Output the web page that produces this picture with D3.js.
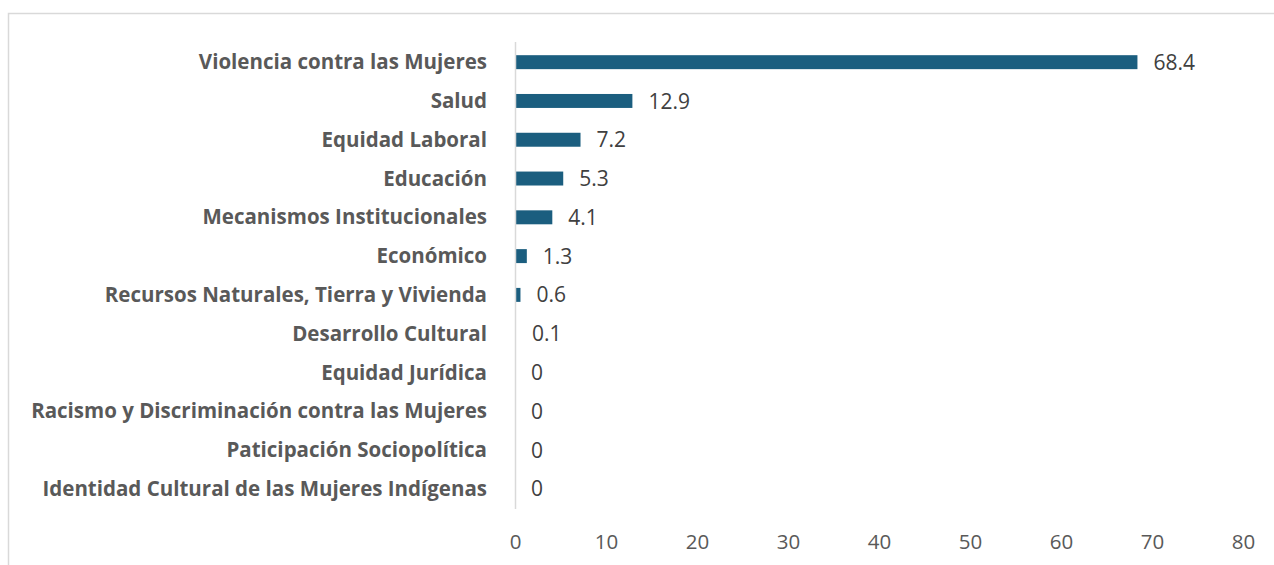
<!DOCTYPE html>
<html>
<head>
<meta charset="utf-8">
<script src="https://cdn.jsdelivr.net/npm/d3@7"></script>
<style>
  body { margin: 0; background: #fff; }
  text { font-family: "Open Sans", "DejaVu Sans", sans-serif; }
</style>
</head>
<body>
<div class="chart"></div>
<script>
var svgWidth = 1274;
var svgHeight = 565;

// data
var categories = [
  "Violencia contra las Mujeres",
  "Salud",
  "Equidad Laboral",
  "Educación",
  "Mecanismos Institucionales",
  "Económico",
  "Recursos Naturales, Tierra y Vivienda",
  "Desarrollo Cultural",
  "Equidad Jurídica",
  "Racismo y Discriminación contra las Mujeres",
  "Paticipación Sociopolítica",
  "Identidad Cultural de las Mujeres Indígenas"
];
var values = [68.4, 12.9, 7.2, 5.3, 4.1, 1.3, 0.6, 0.1, 0, 0, 0, 0];
var xTicks = [0, 10, 20, 30, 40, 50, 60, 70, 80];

var margin = { top: 42, right: 31, bottom: 56, left: 515 };
var width = svgWidth - margin.left - margin.right;
var height = svgHeight - margin.top - margin.bottom;

var svg = d3.select(".chart")
  .append("svg")
  .attr("width", svgWidth)
  .attr("height", svgHeight);

// outer frame
svg.append("rect")
  .attr("x", 8.5)
  .attr("y", 13.5)
  .attr("width", 1300)
  .attr("height", 600)
  .attr("fill", "none")
  .attr("stroke", "#d9d9d9")
  .attr("stroke-width", 1.5);

var chartGroup = svg.append("g")
  .attr("transform", `translate(${margin.left}, ${margin.top})`);

var x = d3.scaleLinear()
  .domain([0, 80])
  .range([0, width]);

var y = d3.scaleBand()
  .domain(categories)
  .range([0, height])
  .paddingInner(0.64)
  .paddingOuter(0.34);

// bars
chartGroup.selectAll("rect.bar")
  .data(values)
  .enter()
  .append("rect")
  .attr("class", "bar")
  .attr("x", 0)
  .attr("y", function(d, i) { return y(categories[i]); })
  .attr("width", function(d) { return x(d); })
  .attr("height", y.bandwidth())
  .attr("fill", "#1b5e7f");

// vertical axis line
chartGroup.append("line")
  .attr("x1", 0.5).attr("x2", 0.5)
  .attr("y1", 0).attr("y2", height)
  .attr("stroke", "#d9d9d9")
  .attr("stroke-width", 1.5);

// category labels
chartGroup.selectAll("text.cat")
  .data(categories)
  .enter()
  .append("text")
  .attr("class", "cat")
  .attr("x", -28)
  .attr("y", function(d) { return y(d) + y.bandwidth() / 2; })
  .attr("dy", "0.35em")
  .attr("text-anchor", "end")
  .style("font-size", "20.5px")
  .style("font-weight", 700)
  .style("fill", "#595959")
  .text(function(d) { return d; });

// value labels
chartGroup.selectAll("text.val")
  .data(values)
  .enter()
  .append("text")
  .attr("class", "val")
  .attr("x", function(d) { return x(d) + 16; })
  .attr("y", function(d, i) { return y(categories[i]) + y.bandwidth() / 2; })
  .attr("dy", "0.36em")
  .style("font-size", "21px")
  .style("fill", "#404040")
  .text(function(d) { return d; });

// x axis (no line, no ticks)
var xAxis = chartGroup.append("g")
  .attr("transform", "translate(0," + height + ")")
  .call(d3.axisBottom(x).tickValues(xTicks).tickSize(0).tickPadding(25));
xAxis.select(".domain").remove();
xAxis.selectAll("text")
  .style("font-size", "20.5px")
  .style("font-family", "'Open Sans', sans-serif")
  .style("fill", "#595959");
</script>
</body>
</html>
